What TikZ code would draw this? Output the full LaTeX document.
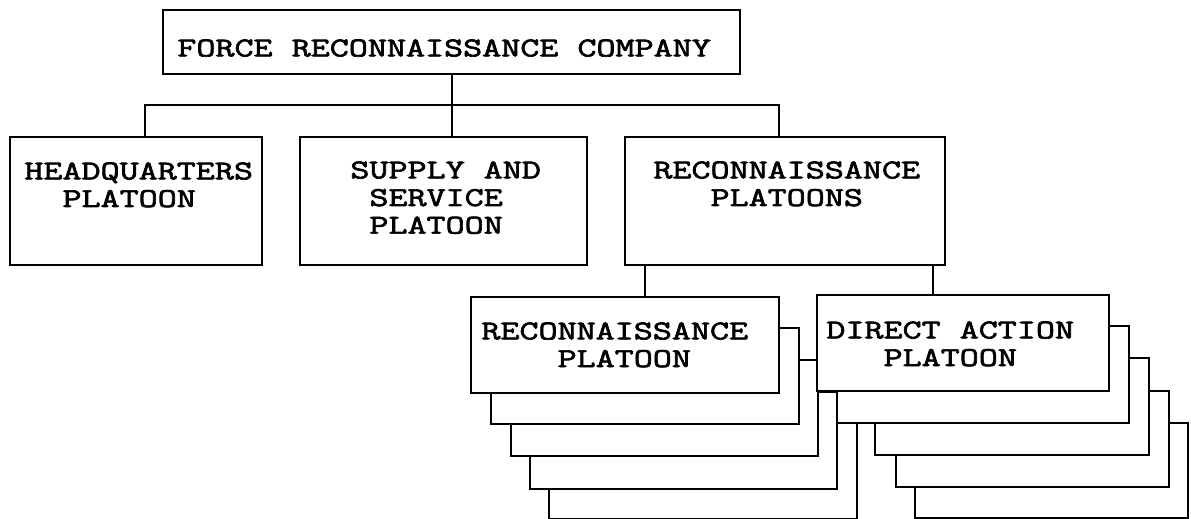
\documentclass[tikz,border=0pt]{standalone}
\usepackage{fontspec}
\newfontfamily\typew[FakeStretch=1.36, FakeBold=2.5]{Latin Modern Mono}
\begin{document}
\begin{tikzpicture}[x=0.5pt,y=-0.5pt,
  box/.style={draw, fill=white, line width=1pt, inner sep=0pt},
  lbl/.style={align=left, anchor=north west, inner sep=0pt, font=\typew\fontsize{13.6}{13.8}\selectfont},
  conn/.style={line width=1pt}]
\useasboundingbox (0,0) rectangle (1191,519);
% connector coordinates
\coordinate (bl) at (145,105);
\coordinate (br) at (779,105);
\coordinate (ca) at (452,0);
\coordinate (c1) at (645,0);
\coordinate (c2) at (933,0);
% top level boxes
\node[box, minimum width=288.5pt, minimum height=32pt] (top) at (451.5,42) {};
\node[box, minimum width=126pt, minimum height=64pt] (hq) at (136,201) {};
\node[box, minimum width=143.5pt, minimum height=64pt] (sup) at (443.5,201) {};
\node[box, minimum width=160pt, minimum height=64pt] (rps) at (785,201) {};
\draw[conn] (bl |- hq.north) -- (bl) -- (br) -- (br |- rps.north);
\draw[conn] (ca |- top.south) -- (ca |- sup.north);
% reconnaissance platoon stack (back to front)
\node[box, minimum width=154pt, minimum height=48pt] (r5) at (703,471) {};
\node[box, minimum width=153.5pt, minimum height=48.5pt] (r4) at (683.5,440.5) {};
\node[box, minimum width=153.5pt, minimum height=48pt] (r3) at (664.5,408) {};
\node[box, minimum width=154pt, minimum height=48pt] (r2) at (645,376) {};
\node[box, minimum width=154pt, minimum height=48pt] (r1) at (625,345) {};
% direct action platoon stack (back to front)
\node[box, minimum width=136.5pt, minimum height=47.5pt] (d5) at (1051.5,470.5) {};
\node[box, minimum width=136.5pt, minimum height=48pt] (d4) at (1032.5,439) {};
\node[box, minimum width=137pt, minimum height=48.5pt] (d3) at (1012,406.5) {};
\node[box, minimum width=146pt, minimum height=48.5pt] (d2) at (983,374.5) {};
\node[box, minimum width=146pt, minimum height=48pt] (d1) at (963,343) {};
\draw[conn] (c1 |- rps.south) -- (c1 |- r1.north);
\draw[conn] (c2 |- rps.south) -- (c2 |- d1.north);
% texts
\node[lbl] (ttop) at (177,39) {FORCE RECONNAISSANCE COMPANY};
\node[lbl] (thq) at (24,162) {HEADQUARTERS\\\hphantom{XX}PLATOON};
\node[lbl] (tsup) at (350,161) {SUPPLY AND\\\hphantom{X}SERVICE\\\hphantom{X}PLATOON};
\node[lbl] (trps) at (653,161) {RECONNAISSANCE\\\hphantom{XXX}PLATOONS};
\node[lbl] (tr1) at (481,322) {RECONNAISSANCE\\\hphantom{XXXX}PLATOON};
\node[lbl] (td1) at (826,321) {DIRECT ACTION\\\hphantom{XXX}PLATOON};
\end{tikzpicture}
\end{document}
